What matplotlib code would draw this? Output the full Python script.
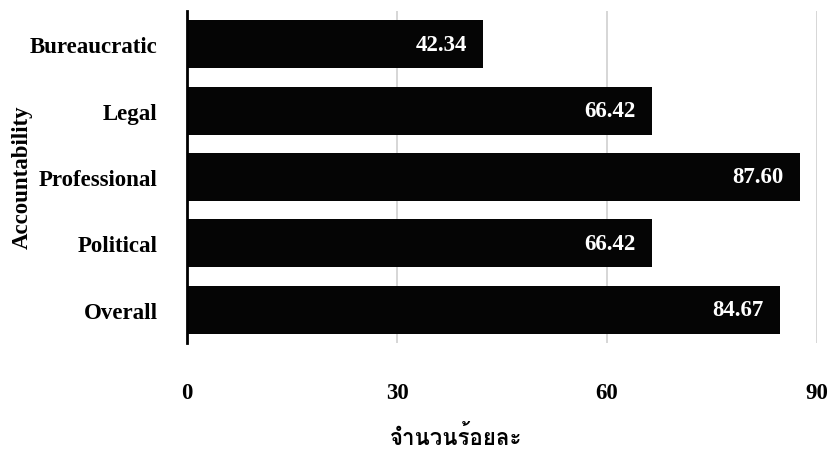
import matplotlib
matplotlib.use("Agg")
import matplotlib.pyplot as plt
from matplotlib import font_manager
from matplotlib.ft2font import FT2Font

categories = ["Bureaucratic", "Legal", "Professional", "Political", "Overall"]
values = [42.34, 66.42, 87.60, 66.42, 84.67]
xticks = [0, 30, 60, 90]
xlabel = "จำนวนร้อยละ"
ylabel = "Accountability"

# find a font that has Thai glyphs
thai_family = None
for fe in font_manager.fontManager.ttflist:
    try:
        f = FT2Font(fe.fname)
        cmap = f.get_charmap()
        if ord("จ") in cmap and ord("ร") in cmap:
            thai_family = fe.name
            break
    except Exception:
        pass

serif = "Liberation Serif"
plt.rcParams["font.family"] = [serif] + ([thai_family] if thai_family else []) + ["DejaVu Sans"]

fig = plt.figure(figsize=(8.3, 4.52), dpi=100)
ax = fig.add_axes([187/830, 1-344/452, (817-187)/830, (344-12)/452])

ypos = list(range(len(categories)))
ax.barh(ypos, values, height=0.72, color="#050505", zorder=3)
ax.set_ylim(len(categories)-0.5, -0.5)
ax.set_xlim(0, 90)
ax.set_yticks(ypos)
ax.set_yticklabels(categories, fontsize=16.5, fontweight="bold")
ax.set_xticks(xticks)
ax.set_xticklabels([str(t) for t in xticks], fontsize=16.5, fontweight="bold")
ax.tick_params(axis="y", length=0, pad=21)
ax.tick_params(axis="x", length=0, pad=28)
ax.grid(axis="x", color="#d0d0d0", linewidth=1.2, zorder=0)
for s in ["top", "right", "bottom"]:
    ax.spines[s].set_visible(False)
ax.spines["left"].set_linewidth(2)
ax.spines["left"].set_color("black")
ax.spines["left"].set_zorder(4)

for y, v in zip(ypos, values):
    ax.annotate(f"{v:.2f}", xy=(v, y), xytext=(-12, 0), textcoords="offset points",
                ha="right", va="center", color="white", fontsize=16.5, fontweight="bold", zorder=5)

fig.text(456/830, 1-437/452, xlabel, ha="center", va="center", fontsize=16, fontweight="bold",
         family=[thai_family] if thai_family else ["DejaVu Sans"])
fig.text(22/830, 1-177/452, ylabel, ha="center", va="center", rotation=90, fontsize=16.5, fontweight="bold")

fig.savefig("out.png", dpi=100)
